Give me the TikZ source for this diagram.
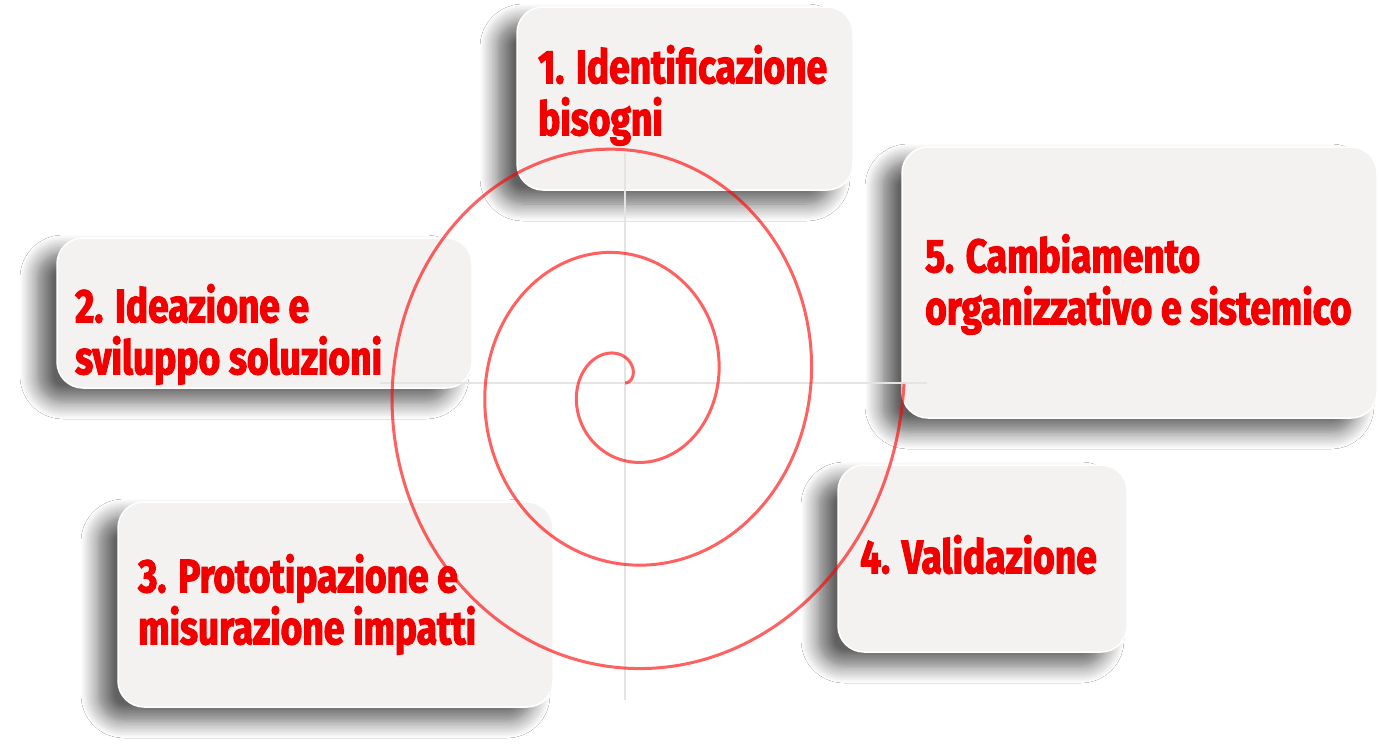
\documentclass[tikz,border=0pt]{standalone}
\usepackage{fontspec}
\newfontfamily\boxfont{Fira Sans}[FakeStretch=0.79, FakeBold=2.4]
\usetikzlibrary{shadows.blur}
\definecolor{boxgray}{HTML}{F3F2F1}
\definecolor{txtred}{HTML}{F20000}
\definecolor{crossgray}{HTML}{E4E4E4}
\newcommand{\topstrut}{\rule{0pt}{42pt}}
\tikzset{
  box/.style={fill=boxgray, draw=white, line width=1.5pt, rounded corners=26pt,
    blur shadow={shadow xshift=-20pt, shadow yshift=-14pt, shadow blur radius=17pt, shadow blur steps=12, shadow opacity=62}},
  boxtext/.style={anchor=north west, inner sep=0pt, align=left, text=txtred,
    font=\boxfont\bfseries\fontsize{47}{52}\selectfont},
  cross/.style={draw=crossgray, line width=2pt},
  spiral/.style={draw=red, draw opacity=0.62, line width=3pt}
}
\begin{document}
\begin{tikzpicture}[x=1pt,y=-1pt]
\useasboundingbox (0,0) rectangle (1380,753);
\fill[white] (0,0) rectangle (1380,753);
% boxes
\node[box, minimum width=336pt, minimum height=183pt] (b1) at (685,98.5) {};
\node[box, minimum width=415pt, minimum height=150pt] (b2) at (264.5,313) {};
\node[box, minimum width=475pt, minimum height=271pt] (b5) at (1139.5,282.5) {};
\node[box, minimum width=435pt, minimum height=205pt] (b3) at (335.5,604.5) {};
\node[box, minimum width=289pt, minimum height=187pt] (b4) at (982.5,558.5) {};
% crosshair
\coordinate (vtop) at (625,153);
\coordinate (vbot) at (625,700);
\coordinate (hl) at (380,383);
\coordinate (hr) at (927,383);
\draw[cross] (vtop) -- (vbot);
\draw[cross] (hl) -- (hr);
% spiral
\draw[spiral] plot[domain=0:6*pi, samples=600, smooth, variable=\t]
  ({625+14.8*\t*cos(\t r)}, {383-16.5*\t*sin(\t r)});
% texts
\node[boxtext] (t1) at (538,41) {\topstrut 1. Identificazione\\bisogni};
\node[boxtext] (t2) at (75,280) {\topstrut 2. Ideazione e\\sviluppo soluzioni};
\node[boxtext] (t5) at (925,230) {\topstrut 5. Cambiamento\\organizzativo e sistemico};
\node[boxtext] (t3) at (138,550) {\topstrut 3. Prototipazione e\\misurazione impatti};
\node[boxtext] (t4) at (860,531) {\topstrut 4. Validazione};
\end{tikzpicture}
\end{document}
